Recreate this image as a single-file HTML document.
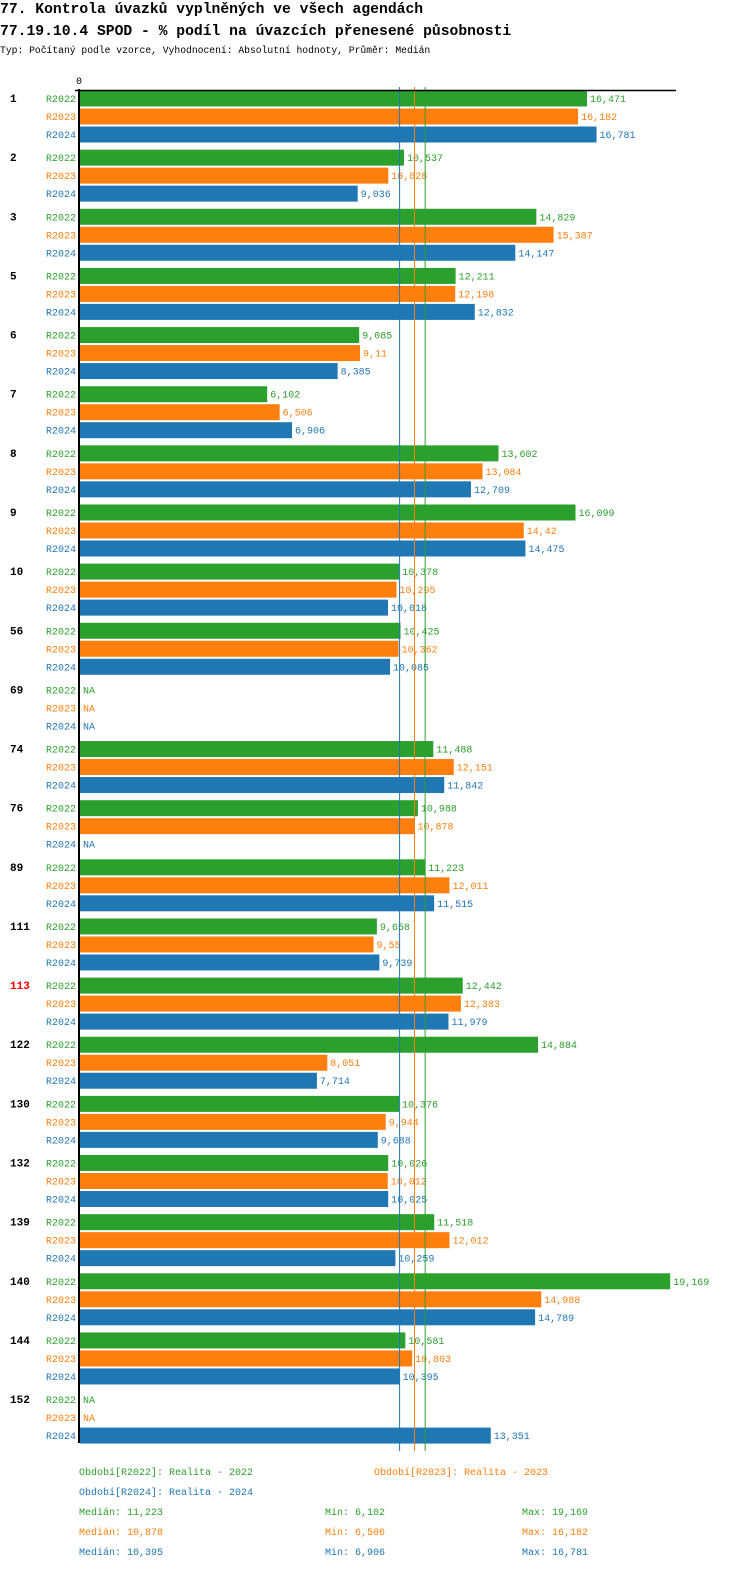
<!DOCTYPE html>
<html><head><meta charset="utf-8"><style>
body{margin:0;background:#fff;width:750px;height:1592px;overflow:hidden}
svg{display:block}
text{font-family:"Liberation Mono","DejaVu Sans Mono",monospace}
</style></head><body>
<svg id="c" width="750" height="1592">
<text x="0" y="13" font-size="14.7" font-weight="bold">77. Kontrola úvazků vyplněných ve všech agendách</text>
<text x="0" y="35" font-size="14.7" font-weight="bold">77.19.10.4 SPOD - % podíl na úvazcích přenesené působnosti</text>
<text x="0" y="53" font-size="9.7">Typ: Počítaný podle vzorce, Vyhodnocení: Absolutní hodnoty, Průměr: Medián</text>
<text x="79" y="84" font-size="10" text-anchor="middle">0</text>
</svg>
<script>
const categories=["1","2","3","5","6","7","8","9","10","56","69","74","76","89","111","113","122","130","132","139","140","144","152"];
const r2022=[16471,10537,14829,12211,9085,6102,13602,16099,10378,10425,null,11488,10988,11223,9658,12442,14884,10376,10026,11518,19169,10581,null];
const r2023=[16182,10028,15387,12198,9110,6506,13084,14420,10295,10362,null,12151,10878,12011,9550,12383,8051,9944,10012,12012,14988,10803,null];
const r2024=[16781,9036,14147,12832,8385,6906,12709,14475,10018,10085,null,11842,null,11515,9739,11979,7714,9688,10025,10259,14789,10395,13351];
const seriesNames=["R2022","R2023","R2024"];
const medians=[11223,10878,10395];
const mins=[6102,6506,6906];
const maxs=[19169,16182,16781];
const colors=["#2ca02c","#ff7f0e","#1f77b4"];
const svg=document.getElementById('c');
const NS="http://www.w3.org/2000/svg";
const x0=79,scale=508/16471;
const X=v=>x0+v*scale;
const gy=i=>98+i*59.14;
function mk(t,a,txt){const e=document.createElementNS(NS,t);for(const k in a)e.setAttribute(k,a[k]);if(txt!==undefined)e.textContent=txt;svg.appendChild(e);return e;}
const fmtd=v=>v>=1000?v.toLocaleString('en-US'):String(v);
const data=[r2022,r2023,r2024];
categories.forEach((c,i)=>{
  const y=gy(i);
  let e=mk('text',{x:10,y:y+4,'font-size':11,'font-weight':'bold',fill:c==="113"?"#ff0000":"#000"},c);
  
  
  data.forEach((s,k)=>{
    const yy=y+k*18;
    let l=mk('text',{x:76,y:yy+4,'font-size':10,'text-anchor':'end',fill:colors[k]},seriesNames[k]);
    
    
    const v=s[i];
    if(v===null){
      let n=mk('text',{x:83,y:yy+4,'font-size':10,fill:colors[k]},'NA');
      
      
    }else{
      let r=mk('rect',{x:80,y:yy-7.5,width:X(v)-80,height:16,fill:colors[k]});
      
      
      let t=mk('text',{x:X(v)+3,y:yy+4,'font-size':10,fill:colors[k]},fmtd(v/1000).replace('.',','));
      
      
    }
  });
});
medians.forEach((m,k)=>{
  let l=mk('line',{x1:X(m),x2:X(m),y1:87,y2:1451,stroke:colors[k],'stroke-width':1});
  
  
});
let ax=mk('line',{x1:79,x2:79,y1:89,y2:1443,stroke:'#000','stroke-width':2});


let tx=mk('line',{x1:75,x2:676,y1:90.5,y2:90.5,stroke:'#000','stroke-width':1.5});


const legends=[["Období[R2022]: Realita - 2022",79,1475,0],["Období[R2023]: Realita - 2023",374,1475,1],["Období[R2024]: Realita - 2024",79,1495,2]];
legends.forEach(([t,x,y,k])=>{
  let e=mk('text',{x:x,y:y,'font-size':10,fill:colors[k]},t);
  
  
});
const f=v=>v.toLocaleString('en-US');
[0,1,2].forEach(k=>{
  const y=1515+k*20;
  let a=mk('text',{x:79,y:y,'font-size':10,fill:colors[k]},'Medián: '+f(medians[k]));
  
  
  let b=mk('text',{x:325,y:y,'font-size':10,fill:colors[k]},'Min: '+f(mins[k]));
  
  
  let d=mk('text',{x:522,y:y,'font-size':10,fill:colors[k]},'Max: '+f(maxs[k]));
  
  
});
</script>
</body></html>
